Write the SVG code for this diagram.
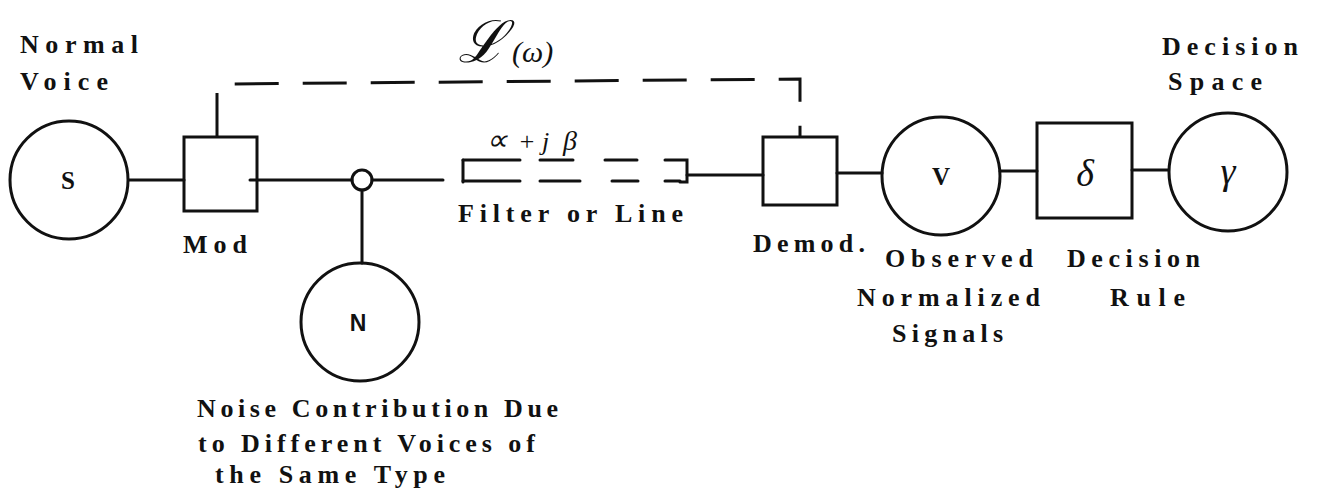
<svg xmlns="http://www.w3.org/2000/svg" width="1317" height="497" viewBox="0 0 1317 497">
<style>
.ln{stroke:#111;stroke-width:3;fill:none;stroke-linecap:round}
.nd{stroke:#111;stroke-width:3;fill:none}
.dash{stroke:#111;stroke-width:3;fill:none}
.lbl{font-family:"Liberation Serif",serif;font-weight:bold;font-size:26px;fill:#111}
.sym{font-family:"Liberation Serif",serif;font-weight:bold;font-size:25px;fill:#111;text-anchor:middle}
.scr{font-family:"Liberation Serif",serif;font-style:italic;fill:#111}
</style>
<rect width="1317" height="497" fill="#fff"/>
<g id="connectors">
<line class="ln" x1="129" y1="180" x2="184" y2="180"/>
<line class="ln" x1="250" y1="180" x2="352" y2="180"/>
<line class="ln" x1="372" y1="180" x2="443" y2="180"/>
<line class="ln" x1="362" y1="190" x2="362" y2="263"/>
<line class="ln" x1="687" y1="175" x2="763" y2="175"/>
<line class="ln" x1="837" y1="173" x2="882" y2="173"/>
<line class="ln" x1="1000" y1="171" x2="1037" y2="171"/>
<line class="ln" x1="1132" y1="170" x2="1168" y2="170"/>
<path class="dash" d="M217,137 V90 Q217,84 224,84 L800,79 V137" style="stroke-dasharray:44 24"/>
</g>
<g id="filter">
<path class="ln" d="M463,160 V182"/>
<path class="ln" d="M463,160 H520 M540,160 H573 M605,160 H637 M665,160 H687 V182 H680"/>
<path class="ln" d="M463,181 H520 M540,181 H580 M612,181 H638 M665,181 H680"/>
<text class="scr" x="486" y="150" font-size="30" font-style="normal">∝</text>
<text class="scr" x="518" y="150" font-size="26" font-style="normal">+</text>
<text class="scr" x="542" y="150" font-size="26" font-style="normal">j</text>
<text class="scr" x="563" y="150" font-size="28" font-style="normal">β</text>
<text class="lbl" x="458" y="222" textLength="225" lengthAdjust="spacing">Filter or Line</text>
</g>
<g id="L">
<text class="scr" x="458" y="62" font-size="58" style="font-family:'DejaVu Serif',serif">ℒ</text>
<text class="scr" x="512" y="62" font-size="30" font-style="normal">(ω)</text>
</g>
<g id="S">
<circle class="nd" cx="69" cy="180" r="59"/>
<text class="sym" x="68" y="189">S</text>
<text class="lbl" x="20" y="53" textLength="118" lengthAdjust="spacing">Normal</text>
<text class="lbl" x="20" y="90" textLength="88" lengthAdjust="spacing">Voice</text>
</g>
<g id="Mod">
<rect class="nd" x="184" y="137" width="73" height="74"/>
<text class="lbl" x="183" y="253" textLength="64" lengthAdjust="spacing">Mod</text>
</g>
<g id="junction">
<circle class="nd" cx="362" cy="180" r="10" fill="#fff"/>
</g>
<g id="N">
<circle class="nd" cx="360" cy="322" r="59"/>
<text class="sym" x="358" y="331" style="font-family:'Liberation Sans',sans-serif;font-size:23px">N</text>
<text class="lbl" x="197" y="417" textLength="361" lengthAdjust="spacing">Noise Contribution Due</text>
<text class="lbl" x="198" y="452" textLength="337" lengthAdjust="spacing">to Different Voices of</text>
<text class="lbl" x="215" y="483" textLength="230" lengthAdjust="spacing">the Same Type</text>
</g>
<g id="Demod">
<rect class="nd" x="763" y="137" width="74" height="68"/>
<text class="lbl" x="753" y="252" textLength="112" lengthAdjust="spacing">Demod.</text>
</g>
<g id="V">
<circle class="nd" cx="941" cy="176" r="59"/>
<text class="sym" x="941" y="185">V</text>
<text class="lbl" x="885" y="267" textLength="148" lengthAdjust="spacing">Observed</text>
<text class="lbl" x="857" y="306" textLength="183" lengthAdjust="spacing">Normalized</text>
<text class="lbl" x="892" y="342" textLength="111" lengthAdjust="spacing">Signals</text>
</g>
<g id="delta">
<rect class="nd" x="1037" y="123" width="95" height="95"/>
<text class="scr" x="1085" y="186" font-size="38" text-anchor="middle">δ</text>
<text class="lbl" x="1067" y="267" textLength="133" lengthAdjust="spacing">Decision</text>
<text class="lbl" x="1110" y="306" textLength="75" lengthAdjust="spacing">Rule</text>
</g>
<g id="gamma">
<circle class="nd" cx="1228" cy="172" r="59"/>
<text class="scr" x="1228" y="184" font-size="38" text-anchor="middle">γ</text>
<text class="lbl" x="1162" y="55" textLength="136" lengthAdjust="spacing">Decision</text>
<text class="lbl" x="1168" y="90" textLength="94" lengthAdjust="spacing">Space</text>
</g>
</svg>
